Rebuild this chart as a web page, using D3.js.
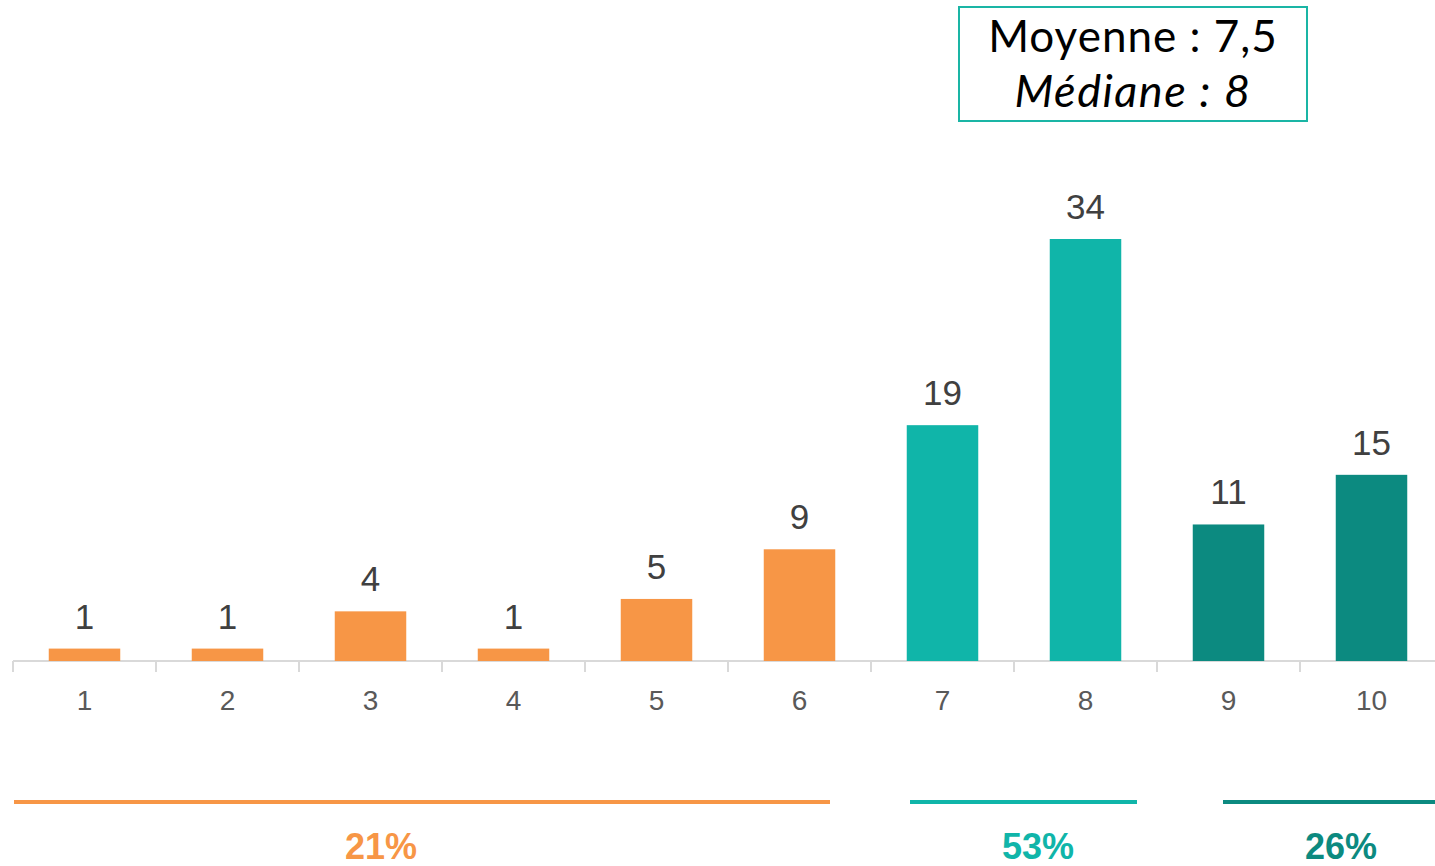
<!DOCTYPE html>
<html><head><meta charset="utf-8">
<script src="https://cdn.jsdelivr.net/npm/d3@7"></script>
<style>body{margin:0;background:#fff}svg{display:block}</style>
</head><body>
<svg id="c" width="1435" height="866"></svg>
<script>
const categories = ["1","2","3","4","5","6","7","8","9","10"];
const values = [1,1,4,1,5,9,19,34,11,15];
const groupOf = [0,0,0,0,0,0,1,1,2,2];
const groupColors = ["#F79646","#10B5A9","#0C8A80"];
const groupLabels = ["21%","53%","26%"];
const statLines = ["Moyenne : 7,5","Médiane : 8"];

const svg = d3.select("#c");
const x = d3.scaleBand().domain(categories).range([13,1443]).paddingInner(0.5).paddingOuter(0.25);
const y = d3.scaleLinear().domain([0,34]).range([661,239]);

// axis
const axisG = svg.append("g").attr("transform","translate(0,661)");
axisG.append("line").attr("x1",13).attr("x2",1435).attr("y1",0).attr("y2",0)
  .attr("stroke","#d9d9d9").attr("stroke-width",2);
categories.forEach((c,i)=>{
  const tx = x(c) - x.bandwidth()/2;
  axisG.append("line").attr("x1",tx).attr("x2",tx).attr("y1",0).attr("y2",11)
    .attr("stroke","#d9d9d9").attr("stroke-width",2);
});
axisG.selectAll("text.tick").data(categories).enter().append("text")
  .attr("x",d=>x(d)+x.bandwidth()/2).attr("y",49)
  .attr("text-anchor","middle").attr("font-family","Liberation Sans, Arial, sans-serif")
  .attr("font-size",28).attr("fill","#595959").text(d=>d);

// bars
svg.selectAll("rect.bar").data(values).enter().append("rect")
  .attr("x",(d,i)=>x(categories[i])).attr("width",x.bandwidth())
  .attr("y",d=>y(d)).attr("height",d=>y(0)-y(d))
  .attr("fill",(d,i)=>groupColors[groupOf[i]]);
svg.selectAll("text.val").data(values).enter().append("text")
  .attr("x",(d,i)=>x(categories[i])+x.bandwidth()/2).attr("y",d=>y(d)-20)
  .attr("text-anchor","middle").attr("font-family","Liberation Sans, Arial, sans-serif")
  .attr("font-size",35).attr("fill","#404040").text(d=>d);

// group lines
const lineXs = [[14,830],[910,1137],[1223,1435]];
const labelXs = [381,1038,1341];
groupLabels.forEach((g,i)=>{
  svg.append("line").attr("x1",lineXs[i][0]).attr("x2",lineXs[i][1])
    .attr("y1",802).attr("y2",802).attr("stroke",groupColors[i]).attr("stroke-width",4);
  svg.append("text").attr("x",labelXs[i]).attr("y",859).attr("text-anchor","middle")
    .attr("font-family","Liberation Sans Narrow, Arial Narrow, sans-serif")
    .attr("font-weight","bold").attr("font-size",36).attr("fill",groupColors[i]).text(g);
});

// stats box
svg.append("rect").attr("x",959).attr("y",7).attr("width",348).attr("height",114)
  .attr("fill","#fff").attr("stroke","#1AB5A5").attr("stroke-width",2);
svg.append("text").attr("x",1133).attr("y",52).attr("text-anchor","middle")
  .attr("font-family","Lato, sans-serif").attr("font-size",44).attr("letter-spacing",1)
  .attr("fill","#000").text(statLines[0]);
svg.append("text").attr("x",1133).attr("y",107).attr("text-anchor","middle")
  .attr("font-family","Lato, sans-serif").attr("font-style","italic").attr("letter-spacing",1.5)
  .attr("font-size",45).attr("fill","#000").text(statLines[1]);
</script>
</body></html>
